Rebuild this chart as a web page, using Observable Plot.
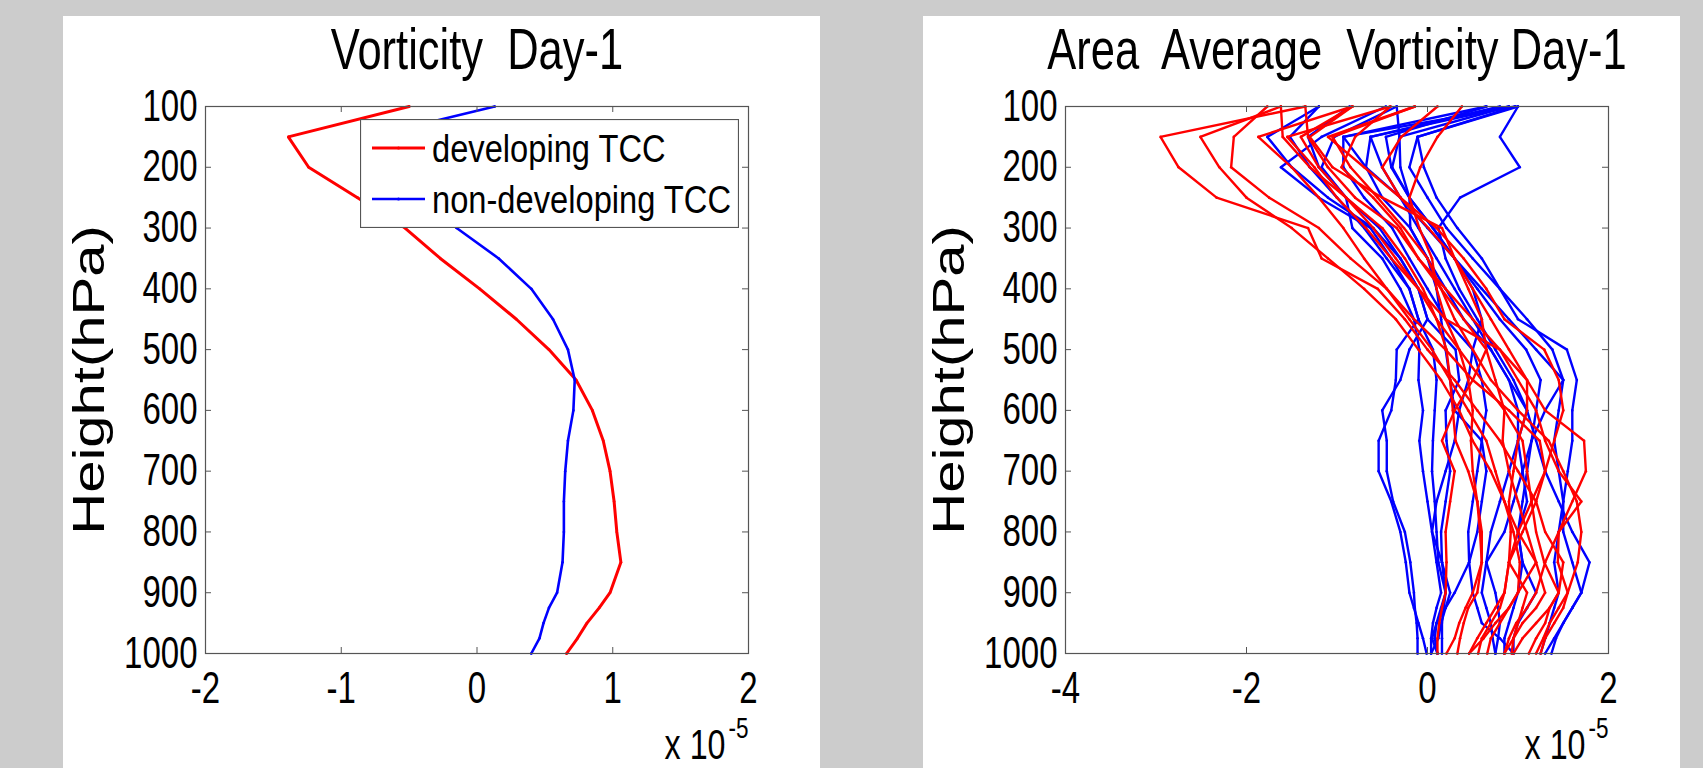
<!DOCTYPE html>
<html>
<head>
<meta charset="utf-8">
<script src="https://cdn.jsdelivr.net/npm/d3@7"></script>
<script src="https://cdn.jsdelivr.net/npm/@observablehq/plot@0.6"></script>
<style>
  html, body { margin: 0; padding: 0; background: #cccccc; width: 1703px; height: 768px; overflow: hidden; }
  .panel { position: absolute; top: 16px; width: 757px; height: 752px; background: #ffffff; overflow: hidden; }
  .panel svg text { white-space: pre; }
  .legend { position: absolute; }
</style>
</head>
<body>
<div id="left" class="panel" style="left:63px"></div>
<div id="right" class="panel" style="left:923px"></div>
<script>
// ---------------- data (vorticity in units of 1e-5 s^-1) ----------------
const levels = [100,150,200,250,300,350,400,450,500,550,600,650,700,750,800,850,900,925,950,975,1000];
const yTicks = [100,200,300,400,500,600,700,800,900,1000];
const leftXTicks = [-2,-1,0,1,2];
const rightXTicks = [-4,-2,0,2];
const leftTitle = "Vorticity  Day-1";
const rightTitle = "Area  Average  Vorticity Day-1";
const yLabel = "Height(hPa)";
const scaleNote = "x 10";
const scaleExp = "-5";
const legendLabels = ["developing TCC", "non-developing TCC"];
const seriesColors = ["#ff0000", "#0000ff"];

// left panel: composite means
const devMean    = [-0.50,-1.39,-1.24,-0.88,-0.53,-0.27,0.02,0.29,0.53,0.73,0.85,0.93,0.98,1.01,1.03,1.06,0.98,0.90,0.81,0.74,0.66];
const nonDevMean = [0.13,-0.80,-0.62,-0.38,-0.15,0.16,0.40,0.56,0.67,0.72,0.71,0.67,0.65,0.64,0.64,0.63,0.59,0.53,0.49,0.46,0.40];

// right panel: individual cases
const devCases = [
  [-1.35,-2.95,-2.75,-2.33,-1.32,-1.17,-0.55,-0.25,0.00,0.30,0.55,0.80,1.00,1.20,1.30,1.50,1.45,1.35,1.20,1.05,0.95],
  [-1.62,-2.51,-2.30,-2.00,-1.50,-1.10,-0.70,-0.35,-0.10,0.15,0.35,0.50,0.70,0.85,1.00,1.20,1.30,1.20,1.05,0.95,0.85],
  [-1.77,-2.14,-2.17,-1.75,-1.20,-0.85,-0.45,-0.20,0.05,0.25,0.45,0.65,0.75,0.85,0.95,1.02,1.00,0.90,0.75,0.62,0.46],
  [-0.83,-1.87,-1.50,-1.20,-0.93,-0.70,-0.45,-0.15,0.20,0.50,0.90,1.24,1.30,1.20,1.05,0.90,0.85,0.80,0.70,0.60,0.56],
  [-0.41,-1.55,-1.25,-1.00,-0.68,-0.40,-0.10,0.10,0.35,0.60,0.85,1.05,1.10,1.15,1.20,1.29,1.45,1.35,1.30,1.20,1.12],
  [-1.35,-1.32,-1.10,-0.80,-0.34,-0.10,0.20,0.50,0.80,1.10,1.30,1.73,1.75,1.60,1.45,1.30,1.20,1.10,0.98,0.90,0.85],
  [-0.14,-1.05,-0.85,-0.55,-0.26,0.00,0.15,0.30,0.50,0.70,1.00,1.34,1.50,1.65,1.70,1.66,1.55,1.45,1.35,1.28,1.20],
  [0.38,0.11,-0.08,-0.20,-0.09,0.05,0.10,0.20,0.35,0.45,0.50,0.48,0.50,0.55,0.58,0.60,0.50,0.42,0.35,0.30,0.21],
  [0.11,-0.29,-0.50,-0.30,0.01,0.30,0.50,0.70,0.90,1.10,1.10,1.00,0.95,0.90,0.92,0.90,0.85,0.75,0.65,0.55,0.46],
  [-0.83,-1.30,-1.05,-0.50,0.16,0.30,0.45,0.60,0.65,0.50,0.30,0.16,0.30,0.25,0.20,0.21,0.20,0.16,0.13,0.11,0.11],
  [-1.62,-1.60,-1.30,-0.90,-0.50,-0.25,-0.05,0.10,0.21,0.25,0.28,0.31,0.45,0.55,0.60,0.60,0.55,0.45,0.40,0.36,0.33],
  [-0.41,-0.80,-0.95,-0.60,-0.30,-0.10,0.15,0.40,0.65,0.75,0.85,0.83,0.90,1.00,1.10,1.20,1.00,0.90,0.80,0.70,0.66],
  [-0.14,-1.10,-0.70,-0.30,0.10,0.40,0.65,0.85,1.29,1.45,1.50,1.40,1.30,1.15,1.00,0.90,1.10,1.05,1.00,0.95,0.93],
  [-0.83,-1.40,-1.20,-0.90,-0.60,-0.35,-0.10,0.20,0.80,1.00,1.20,1.30,1.45,1.70,1.45,1.44,1.55,1.50,1.40,1.30,1.25]
];
const nonDevCases = [
  [1.00,0.80,1.02,0.36,0.12,0.20,0.35,0.55,0.75,0.95,1.10,1.20,1.30,1.45,1.60,1.79,1.70,1.60,1.50,1.42,1.37],
  [0.97,-0.11,-0.04,0.10,0.33,0.60,0.80,1.00,1.54,1.65,1.60,1.60,1.55,1.50,1.45,1.40,1.45,1.40,1.35,1.30,1.25],
  [0.90,-0.31,-0.39,-0.20,0.06,0.30,0.55,0.80,1.09,1.25,1.20,1.15,1.10,1.05,1.00,1.05,1.00,0.95,0.90,0.85,0.85],
  [0.80,-0.63,-0.68,-0.50,-0.19,0.00,0.20,0.40,0.70,0.90,1.10,1.00,0.90,0.80,0.70,0.65,0.75,0.78,0.80,0.78,0.75],
  [0.65,-0.93,-0.93,-0.70,-0.39,-0.20,0.00,0.20,0.50,0.60,0.65,0.60,0.55,0.50,0.45,0.46,0.50,0.55,0.60,0.80,0.95],
  [-0.34,-1.03,-1.17,-0.90,-0.53,-0.30,-0.10,0.00,0.31,0.35,0.20,0.21,0.25,0.20,0.15,0.16,0.20,0.18,0.16,0.16,0.16],
  [-0.46,-1.17,-1.62,-1.20,-0.63,-0.40,-0.20,-0.10,0.06,0.10,0.08,0.06,0.05,0.08,0.10,0.12,0.20,0.15,0.10,0.08,0.11],
  [-0.86,-1.32,-1.20,-0.90,-0.83,-0.50,-0.30,-0.15,-0.09,-0.10,-0.05,-0.09,-0.05,0.00,0.05,0.10,0.15,0.10,0.06,0.04,0.04],
  [-1.20,-1.52,-1.30,-1.00,-0.70,-0.45,-0.20,-0.10,-0.34,-0.35,-0.40,-0.54,-0.54,-0.40,-0.30,-0.24,-0.20,-0.15,-0.10,-0.05,-0.01],
  [-1.20,-1.77,-1.50,-1.10,-0.60,-0.30,-0.10,0.00,-0.20,-0.30,-0.50,-0.45,-0.45,-0.38,-0.25,-0.19,-0.15,-0.14,-0.12,-0.11,-0.11],
  [1.00,-0.11,-0.20,0.00,0.21,0.50,0.80,1.10,1.38,1.50,1.45,1.40,1.45,1.50,1.50,1.60,1.70,1.60,1.50,1.40,1.30],
  [0.90,-0.63,-0.50,-0.30,-0.10,0.10,0.30,0.50,0.70,0.90,1.00,1.00,1.05,1.10,1.00,1.05,1.20,1.10,1.00,0.95,0.95],
  [-0.34,-0.31,-0.30,-0.20,-0.19,0.00,0.10,0.15,0.20,0.25,0.30,0.60,0.65,0.60,0.55,0.46,0.30,0.20,0.10,0.05,0.11],
  [0.97,-0.93,-0.68,-0.30,0.00,0.30,0.60,0.90,1.20,1.50,1.30,1.15,1.05,0.95,0.85,0.65,0.60,0.65,0.70,0.72,0.75],
  [0.65,-0.46,-0.40,-0.20,0.06,0.30,0.50,0.60,0.50,0.45,0.35,0.30,0.20,0.10,0.05,0.16,0.25,0.20,0.15,0.12,0.04]
];

// ---------------- layout ----------------
const FONT = '"Liberation Sans", Arial, Helvetica, sans-serif';
const AX = "#555555";
const W = 757, H = 800, ML = 142, MR = 72, MT = 90, MB = 163;
const FW = W - ML - MR, FH = H - MT - MB;
const SQUEEZE = 0.75;

function tidy(rows, prefix) {
  const out = [];
  rows.forEach((r, k) => r.forEach((v, i) => out.push({id: prefix + k, v, p: levels[i]})));
  return out;
}

function makePanel({title, xDomain, xTicks, groups}) {
  const lineMarks = [];
  for (const g of groups) {
    lineMarks.push(Plot.line(g.data, {x: "v", y: "p", z: "id", stroke: g.color, strokeWidth: g.width, strokeLinejoin: "miter"}));
    lineMarks.push(Plot.dot(g.data, {x: "v", y: "p", r: 1.3, fill: g.color}));
  }
  return Plot.plot({
    width: W, height: H,
    marginLeft: ML, marginRight: MR, marginTop: MT, marginBottom: MB,
    style: {fontFamily: FONT, background: "transparent", color: "#000", overflow: "visible"},
    x: {domain: xDomain},
    y: {domain: [100, 1000], reverse: true},
    marks: [
      ...lineMarks,
      Plot.frame({stroke: AX, strokeWidth: 1.2}),
      Plot.tickX(xTicks, {x: d => d, insetTop: FH - 6, stroke: AX}),
      Plot.tickX(xTicks, {x: d => d, insetBottom: FH - 6, stroke: AX}),
      Plot.tickY(yTicks, {y: d => d, insetRight: FW - 6, stroke: AX}),
      Plot.tickY(yTicks, {y: d => d, insetLeft: FW - 6, stroke: AX}),
      Plot.axisX(xTicks, {tickSize: 0, tickPadding: 18, fontSize: 44, tickFormat: d => String(d), label: null}),
      Plot.axisY(yTicks, {tickSize: 0, tickPadding: 8, fontSize: 44, tickFormat: d => String(d), label: null}),
      Plot.text([title], {frameAnchor: "top", lineAnchor: "bottom", dy: -38, fontSize: 58}),
      Plot.text([yLabel], {frameAnchor: "left", textAnchor: "middle", rotate: -90, lineAnchor: "bottom", dx: -105, fontSize: 58}),
      Plot.text([scaleNote], {frameAnchor: "bottom-right", textAnchor: "end", lineAnchor: "bottom", dx: -23, dy: 105, fontSize: 43}),
      Plot.text([scaleExp], {frameAnchor: "bottom-right", textAnchor: "end", lineAnchor: "bottom", dx: 0, dy: 84, fontSize: 30})
    ]
  });
}

// horizontally condense all svg text (the reference figure is squeezed horizontally)
function condense(svg, s) {
  svg.querySelectorAll("text").forEach(t => {
    const g = document.createElementNS("http://www.w3.org/2000/svg", "g");
    t.parentNode.insertBefore(g, t);
    g.appendChild(t);
    const b = g.getBBox();
    let mode = getComputedStyle(t).textAnchor;
    if (t.textContent === yLabel) mode = "end";
    const ax = mode === "start" ? b.x : mode === "end" ? b.x + b.width : b.x + b.width / 2;
    g.setAttribute("transform", `translate(${ax},0) scale(${s},1) translate(${-ax},0)`);
  });
}

function mount(id, svg) {
  const el = document.getElementById(id);
  el.appendChild(svg);
  condense(svg, SQUEEZE);
  return el;
}

const leftSvg = makePanel({
  title: leftTitle, xDomain: [-2, 2], xTicks: leftXTicks,
  groups: [
    {data: tidy([devMean], "d"), color: seriesColors[0], width: 3},
    {data: tidy([nonDevMean], "n"), color: seriesColors[1], width: 2.6}
  ]
});
const leftEl = mount("left", leftSvg);

const rightSvg = makePanel({
  title: rightTitle, xDomain: [-4, 2], xTicks: rightXTicks,
  groups: [
    {data: tidy(nonDevCases, "n"), color: seriesColors[1], width: 2.4},
    {data: tidy(devCases, "d"), color: seriesColors[0], width: 2.4}
  ]
});
mount("right", rightSvg);

// legend (left panel)
(function () {
  const NS = "http://www.w3.org/2000/svg";
  const lw = 379, lh = 109;
  const svg = document.createElementNS(NS, "svg");
  svg.setAttribute("class", "legend");
  svg.setAttribute("width", lw); svg.setAttribute("height", lh);
  svg.style.left = "297px"; svg.style.top = "103px";
  svg.innerHTML = `<rect x="0.5" y="0.5" width="${lw-1}" height="${lh-1}" fill="#fff" stroke="${AX}" stroke-width="1.2"/>`;
  const rowsY = [29, 80];
  legendLabels.forEach((lab, i) => {
    const y = rowsY[i];
    const c = seriesColors[i];
    svg.innerHTML += `<line x1="12" x2="65" y1="${y}" y2="${y}" stroke="${c}" stroke-width="${i ? 2.6 : 3}"/>` +
      `<circle cx="38.5" cy="${y}" r="1.5" fill="${c}"/>` +
      `<text transform="translate(72,${y + 14}) scale(0.86,1)" font-family='${FONT}' font-size="38" fill="#000">${lab}</text>`;
  });
  leftEl.appendChild(svg);
})();
</script>
</body>
</html>
